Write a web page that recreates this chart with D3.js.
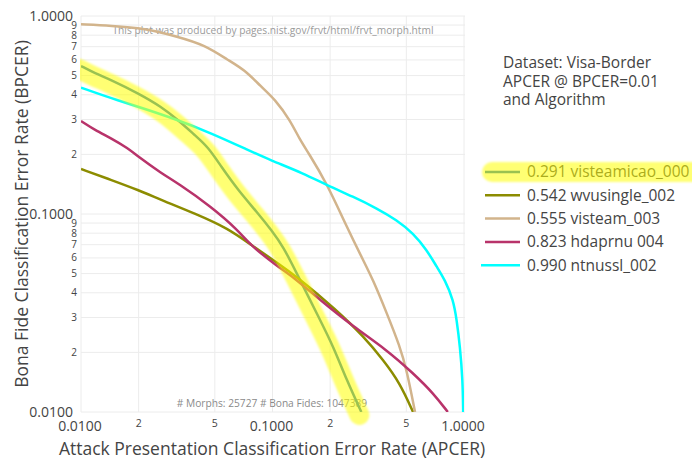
<!DOCTYPE html>
<html>
<head>
<meta charset="utf-8">
<script src="https://cdn.jsdelivr.net/npm/d3@7"></script>
<style>
  body { margin: 0; background: #fff; }
  text { font-family: "Open Sans", Arial, sans-serif; }
</style>
</head>
<body>
<svg id="chart" width="692" height="462"></svg>
<script>
// DET curves for the Visa-Border morph dataset (log-log axes)
const seriesNames = ["visteamicao_000", "wvusingle_002", "visteam_003", "hdaprnu  004", "ntnussl_002"];
const apcerAtBpcer001 = [0.291, 0.542, 0.555, 0.823, 0.990];
const seriesColors = ["#1f77b4", "#8c8c00", "#d2b48c", "#b8336a", "#00ffff"];

const visteamicaoApcer = [0.0100, 0.0118, 0.0144, 0.0199, 0.0263, 0.0321, 0.0392, 0.0461, 0.0540, 0.0660, 0.0840, 0.0986, 0.1139, 0.1338, 0.1770, 0.2078, 0.2440, 0.291];
const visteamicaoBpcer = [0.559, 0.514, 0.475, 0.407, 0.348, 0.2985, 0.2506, 0.218, 0.1733, 0.1322, 0.1008, 0.0830, 0.0684, 0.0502, 0.0292, 0.0214, 0.0145, 0.0100];

const wvusingleApcer = [0.0100, 0.0144, 0.0199, 0.0263, 0.0392, 0.0586, 0.0775, 0.1068, 0.1338, 0.2164, 0.300, 0.379, 0.463, 0.542];
const wvusingleBpcer = [0.1688, 0.1485, 0.1322, 0.1177, 0.1008, 0.0847, 0.0697, 0.0564, 0.0482, 0.0327, 0.0240, 0.0183, 0.0140, 0.0100];

const visteamApcer = [0.0100, 0.0144, 0.0215, 0.0321, 0.0443, 0.0586, 0.0716, 0.0871, 0.1030, 0.1234, 0.1392, 0.1532, 0.192, 0.244, 0.297, 0.335, 0.395, 0.463, 0.502, 0.555];
const visteamBpcer = [0.908, 0.893, 0.867, 0.786, 0.714, 0.599, 0.534, 0.440, 0.380, 0.2985, 0.2364, 0.2056, 0.143, 0.0863, 0.0586, 0.0465, 0.0316, 0.0214, 0.0163, 0.0100];

const hdaprnuApcer = [0.0100, 0.0118, 0.0144, 0.0176, 0.0199, 0.0263, 0.0321, 0.0479, 0.0660, 0.0775, 0.1068, 0.128, 0.177, 0.264, 0.395, 0.5435, 0.692, 0.823];
const hdaprnuBpcer = [0.295, 0.266, 0.241, 0.2147, 0.1947, 0.1605, 0.1429, 0.1088, 0.083, 0.0689, 0.0542, 0.0482, 0.0368, 0.0270, 0.0206, 0.01567, 0.01243, 0.0100];

const ntnusslApcer = [0.0100, 0.0144, 0.0199, 0.0321, 0.0479, 0.0745, 0.0970, 0.1449, 0.192, 0.264, 0.350, 0.445, 0.5435, 0.639, 0.720, 0.796, 0.879, 0.916, 0.953, 0.984, 0.990];
const ntnusslBpcer = [0.435, 0.384, 0.348, 0.2985, 0.2556, 0.2104, 0.1874, 0.1605, 0.140, 0.1223, 0.1069, 0.0933, 0.0799, 0.0658, 0.0542, 0.0464, 0.0368, 0.0292, 0.0214, 0.0145, 0.0100];

const xMajorTicks = [0.01, 0.1, 1];
const xMinorTicks = [0.02, 0.05, 0.2, 0.5];
const xMinorLabels = ["2", "5", "2", "5"];
const yMajorTicks = [0.01, 0.1, 1];
const yMinorTicks = [0.02, 0.03, 0.04, 0.05, 0.06, 0.07, 0.08, 0.09, 0.2, 0.3, 0.4, 0.5, 0.6, 0.7, 0.8, 0.9];
const yMinorLabels = ["2", "3", "4", "5", "6", "7", "8", "9", "2", "3", "4", "5", "6", "7", "8", "9"];

const legendTitle = ["Dataset: Visa-Border", "APCER @ BPCER=0.01", "and Algorithm"];
const topNote = "This plot was produced by pages.nist.gov/frvt/html/frvt_morph.html";
const bottomNote = "# Morphs: 25727 # Bona Fides: 1047389";
const xTitle = "Attack Presentation Classification Error Rate (APCER)";
const yTitle = "Bona Fide Classification Error Rate (BPCER)";

const series = [
  { apcer: visteamicaoApcer, bpcer: visteamicaoBpcer },
  { apcer: wvusingleApcer, bpcer: wvusingleBpcer },
  { apcer: visteamApcer, bpcer: visteamBpcer },
  { apcer: hdaprnuApcer, bpcer: hdaprnuBpcer },
  { apcer: ntnusslApcer, bpcer: ntnusslBpcer }
].map((s, i) => ({
  name: seriesNames[i],
  label: d3.format(".3f")(apcerAtBpcer001[i]) + " " + seriesNames[i],
  color: seriesColors[i],
  points: s.apcer.map((a, k) => [a, s.bpcer[k]])
}));

const plot = { left: 81, right: 464, top: 16, bottom: 412 };
const x = d3.scaleLog().domain([0.01, 1]).range([plot.left, plot.right]);
const y = d3.scaleLog().domain([0.01, 1]).range([plot.bottom, plot.top]);

const svg = d3.select("#chart");
const defs = svg.append("defs");
defs.append("clipPath").attr("id", "plot-clip")
  .append("rect").attr("x", plot.left).attr("y", plot.top)
  .attr("width", plot.right - plot.left).attr("height", plot.bottom - plot.top);
defs.append("clipPath").attr("id", "band-clip")
  .append("rect").attr("x", plot.left - 1).attr("y", 0)
  .attr("width", 692).attr("height", 430);
defs.append("filter").attr("id", "soft")
  .attr("filterUnits", "userSpaceOnUse")
  .attr("x", 0).attr("y", 0).attr("width", 720).attr("height", 480)
  .append("feGaussianBlur").attr("stdDeviation", 1.2);

// grid
const grid = svg.append("g").attr("stroke", "#ececec").attr("stroke-width", 1);
grid.selectAll("line.gx").data(xMajorTicks.concat(xMinorTicks)).join("line")
  .attr("x1", d => x(d)).attr("x2", d => x(d))
  .attr("y1", plot.top).attr("y2", plot.bottom);
grid.selectAll("line.gy").data(yMajorTicks.concat(yMinorTicks)).join("line")
  .attr("y1", d => y(d)).attr("y2", d => y(d))
  .attr("x1", plot.left).attr("x2", plot.right + 1);

// axis tick labels
const tickColor = "#444";
const xl = svg.append("g").attr("fill", tickColor).attr("text-anchor", "middle");
xl.selectAll("text.maj").data(xMajorTicks).join("text")
  .attr("x", d => x(d) - 1).attr("y", 418).attr("dy", "0.95em")
  .attr("font-size", 14).text(d => d3.format(".4f")(d));
xl.selectAll("text.min").data(xMinorTicks).join("text")
  .attr("x", d => x(d)).attr("y", 418).attr("dy", "0.85em")
  .attr("font-size", 10.5).text((d, i) => xMinorLabels[i]);

const yl = svg.append("g").attr("fill", tickColor).attr("text-anchor", "end");
yl.selectAll("text.maj").data(yMajorTicks).join("text")
  .attr("x", 73).attr("y", d => y(d)).attr("dy", "0.35em")
  .attr("font-size", 14).text(d => d3.format(".4f")(d));
yl.selectAll("text.min").data(yMinorTicks).join("text")
  .attr("x", 77).attr("y", d => y(d)).attr("dy", "0.35em")
  .attr("font-size", 10).text((d, i) => yMinorLabels[i]);

// axis titles
svg.append("text").attr("x", 272).attr("y", 455).attr("text-anchor", "middle")
  .attr("font-size", 17.5).attr("fill", tickColor).text(xTitle);
svg.append("text").attr("transform", `translate(28,${(plot.top + plot.bottom) / 2}) rotate(-90)`)
  .attr("text-anchor", "middle").attr("font-size", 17.5).attr("fill", tickColor).text(yTitle);

// notes inside the plot
svg.append("text").attr("x", 273).attr("y", 30).attr("dy", "0.35em")
  .attr("text-anchor", "middle").attr("font-size", 10.2).attr("fill", "#9a9a9a").text(topNote);
svg.append("text").attr("x", 272).attr("y", 403).attr("dy", "0.35em")
  .attr("text-anchor", "middle").attr("font-size", 10.2).attr("fill", "#8a8a8a").text(bottomNote);

// curves
const line = d3.line().x(d => x(d[0])).y(d => y(d[1])).curve(d3.curveBasis);
svg.append("g").attr("clip-path", "url(#plot-clip)")
  .selectAll("path").data(series).join("path")
  .attr("d", d => line(d.points))
  .attr("fill", "none").attr("stroke", d => d.color)
  .attr("stroke-width", 2.5).attr("stroke-linejoin", "round");

// highlighter band over the best algorithm
const highlight = "#ffff00";
svg.append("g").attr("clip-path", "url(#band-clip)")
  .append("path").attr("d", line(series[0].points))
  .attr("transform", "translate(-2,3)")
  .attr("fill", "none").attr("stroke", highlight).attr("stroke-opacity", 0.55)
  .attr("stroke-width", 20).attr("stroke-linecap", "round").attr("stroke-linejoin", "round")
  .attr("filter", "url(#soft)");

// legend
const lg = svg.append("g");
lg.selectAll("text.title").data(legendTitle).join("text")
  .attr("x", 503).attr("y", (d, i) => 63 + i * 18.3).attr("dy", "0.35em")
  .attr("font-size", 15.5).attr("fill", tickColor).text(d => d);
const items = lg.selectAll("g.item").data(series).join("g")
  .attr("transform", (d, i) => `translate(0,${172 + i * 23.3})`);
items.append("line").attr("x1", (d, i) => i === 4 ? 481 : 485).attr("x2", 520)
  .attr("stroke", d => d.color).attr("stroke-width", 2.5);
items.append("text").attr("x", 527).attr("dy", "0.35em")
  .attr("font-size", 15.5).attr("fill", tickColor).text(d => d.label);
lg.append("line").attr("x1", 492).attr("x2", 700).attr("y1", 172).attr("y2", 172)
  .attr("stroke", highlight).attr("stroke-opacity", 0.55)
  .attr("stroke-width", 20).attr("stroke-linecap", "round").attr("filter", "url(#soft)");
</script>
</body>
</html>
